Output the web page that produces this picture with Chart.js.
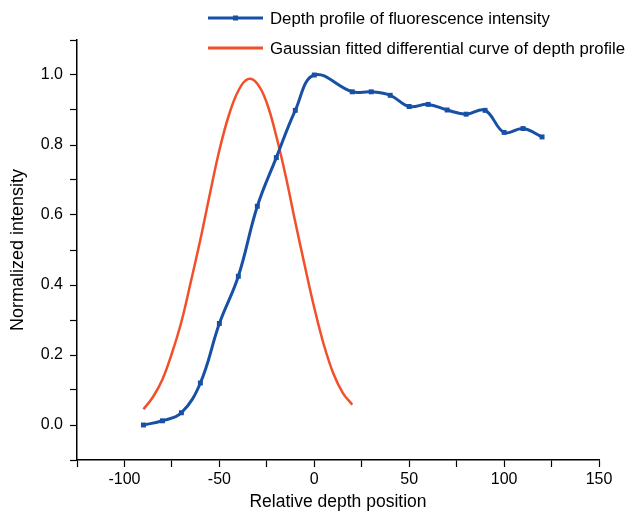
<!DOCTYPE html>
<html>
<head>
<meta charset="utf-8">
<script src="https://cdn.jsdelivr.net/npm/chart.js@4/dist/chart.umd.min.js"></script>
<style>
  html, body { margin: 0; padding: 0; background: #fff; }
  #wrap { width: 632px; height: 513px; }
</style>
</head>
<body>
<div id="wrap"><canvas id="chart" width="632" height="513"></canvas></div>
<script>
// depth profile (blue, with markers)
const depthX = [-90, -80, -70, -60, -50, -40, -30, -20, -10, 0, 20, 30, 40, 50, 60, 70, 80, 90, 100, 110, 120];
const depthY = [0.0, 0.012, 0.035, 0.12, 0.29, 0.425, 0.625, 0.764, 0.899, 1.0, 0.952, 0.952, 0.942, 0.91, 0.916, 0.90, 0.888, 0.899, 0.836, 0.847, 0.823];

// gaussian fitted differential curve (orange)
const fitX = [-90, -85, -80, -75, -70, -65, -60, -55, -50, -45, -40, -35, -30, -25, -20, -15, -10, -5, 0, 5, 10, 15, 20];
const fitY = [0.045, 0.08, 0.13, 0.205, 0.295, 0.41, 0.53, 0.66, 0.785, 0.885, 0.955, 0.988, 0.975, 0.92, 0.825, 0.71, 0.58, 0.455, 0.335, 0.23, 0.148, 0.092, 0.058];

const xTicks = [-100, -50, 0, 50, 100, 150];
const labels = ["Depth profile of fluorescence intensity", "Gaussian fitted differential curve of depth profile"];

const BLUE = "#1750a5";
const ORANGE = "#f2502a";
const FONT = "'Liberation Sans', Arial, sans-serif";

function toPoints(xs, ys) {
  return xs.map((x, i) => ({ x: x, y: ys[i] }));
}

// legend drawn at the top, two rows
const legendPlugin = {
  id: "topLegend",
  afterDraw(chart) {
    const ctx = chart.ctx;
    ctx.save();
    chart.data.datasets.forEach((ds, i) => {
      const y = 18 + i * 30;
      ctx.strokeStyle = ds.borderColor;
      ctx.lineWidth = 3;
      ctx.beginPath();
      ctx.moveTo(208, y);
      ctx.lineTo(263, y);
      ctx.stroke();
      if (ds.pointRadius > 0) {
        ctx.fillStyle = ds.borderColor;
        ctx.fillRect(233, y - 2.5, 5, 5);
      }
      ctx.fillStyle = "#000";
      ctx.font = "16.8px " + FONT;
      ctx.textBaseline = "middle";
      ctx.textAlign = "left";
      ctx.fillText(ds.label, 270, y + 1);
    });
    ctx.restore();
  }
};

new Chart(document.getElementById("chart"), {
  type: "line",
  data: {
    datasets: [
      {
        label: labels[0],
        data: toPoints(depthX, depthY),
        borderColor: BLUE,
        backgroundColor: BLUE,
        borderWidth: 3,
        pointStyle: "rect",
        pointRadius: 3.5,
        pointBorderWidth: 0,
        tension: 0.4,
        fill: false
      },
      {
        label: labels[1],
        data: toPoints(fitX, fitY),
        borderColor: ORANGE,
        backgroundColor: ORANGE,
        borderWidth: 2.5,
        pointRadius: 0,
        tension: 0.4,
        fill: false
      }
    ]
  },
  options: {
    responsive: false,
    animation: false,
    layout: { padding: { top: 40, right: 33, left: 0, bottom: 0 } },
    plugins: {
      legend: { display: false },
      tooltip: { enabled: false }
    },
    scales: {
      x: {
        type: "linear",
        min: -125,
        max: 150,
        afterFit(scale) { scale.height = 53; },
        border: { display: true, color: "#000", width: 1.5 },
        grid: { drawOnChartArea: false, drawTicks: true, tickLength: 7, color: "#000", tickWidth: 1.2 },
        ticks: {
          stepSize: 25,
          padding: 3,
          color: "#000",
          font: { family: FONT, size: 16 },
          maxRotation: 0,
          callback: v => xTicks.includes(v) ? String(v) : ""
        },
        title: {
          display: true,
          text: "Relative depth position",
          color: "#000",
          font: { family: FONT, size: 17.5 },
          padding: { top: 0, bottom: 0 }
        }
      },
      y: {
        min: -0.1,
        max: 1.1,
        afterFit(scale) { scale.width = 77; },
        border: { display: true, color: "#000", width: 1.5 },
        grid: { drawOnChartArea: false, drawTicks: true, tickLength: 7, color: "#000", tickWidth: 1.2 },
        ticks: {
          stepSize: 0.1,
          padding: 7,
          color: "#000",
          font: { family: FONT, size: 16 },
          callback: v => {
            const n = Math.round(v * 10);
            return (n % 2 === 0 && n >= 0 && n <= 10) ? (n / 10).toFixed(1) : "";
          }
        },
        title: {
          display: true,
          text: "Normalized intensity",
          color: "#000",
          font: { family: FONT, size: 18 },
          padding: { top: 7, bottom: 4 }
        }
      }
    }
  },
  plugins: [legendPlugin]
});
</script>
</body>
</html>
